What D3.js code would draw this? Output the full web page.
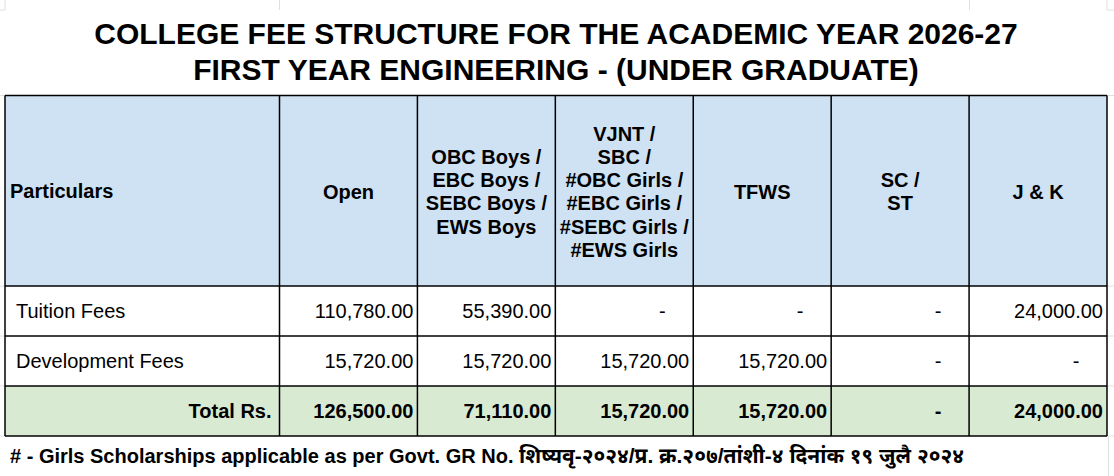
<html>
  <head>
    <script src="https://cdn.jsdelivr.net/npm/d3@7"></script>
    <style>
      body { margin: 0; background: #fff; }
      text { font-family: "Liberation Sans", Arial, "Noto Sans", sans-serif; }
    </style>
  </head>

  <body>
    <div id="sheet"></div>
  </body>

  <script>
    // title lines
    const titleLines = [
      "COLLEGE FEE STRUCTURE FOR THE ACADEMIC YEAR 2026-27",
      "FIRST YEAR ENGINEERING - (UNDER GRADUATE)"
    ]

    // column headers (each one split into its wrapped lines)
    const categories = ["Open", "OBC", "VJNT", "TFWS", "SCST", "JK"]
    const headerLines = [
      ["Open"],
      ["OBC Boys /", "EBC Boys /", "SEBC Boys /", "EWS Boys"],
      ["VJNT /", "SBC /", "#OBC Girls /", "#EBC Girls /", "#SEBC Girls /", "#EWS Girls"],
      ["TFWS"],
      ["SC /", "ST"],
      ["J & K"]
    ]

    // fee rows (null = shown as a dash)
    const rowLabels = ["Tuition Fees", "Development Fees", "Total Rs."]
    const tuitionFees = [110780, 55390, null, null, null, 24000]
    const developmentFees = [15720, 15720, 15720, 15720, null, null]
    const totalFees = [126500, 71110, 15720, 15720, null, 24000]

    // foot note, latin part and devanagari part
    const footNote = ["# - Girls Scholarships applicable as per Govt. GR No. ", "शिष्यवृ-२०२४/प्र. क्र.२०७/तांशी-४ दिनांक १९ जुलै २०२४"]

    function drawSheet () {
      let width = 1114, height = 476
      let left = 5, labelRight = 279.5, right = 1107
      let top = 95.5, headBottom = 286, rowH = 50
      let fontSize = 20

      let svg = d3.select("#sheet")
        .append("svg")
        .attr("width", width)
        .attr("height", height)

      // faint spreadsheet gridlines in the margins
      let grid = svg.append("g").attr("stroke", "#e0e0e0").attr("stroke-width", 1)
      let gridYs = [10, top, headBottom, headBottom + rowH, headBottom + 2 * rowH, headBottom + 3 * rowH]
      gridYs.forEach(y => {
        grid.append("line").attr("x1", 0).attr("x2", left).attr("y1", y).attr("y2", y)
        grid.append("line").attr("x1", right).attr("x2", width).attr("y1", y).attr("y2", y)
      })
      ;[left, labelRight, 969.5, right].forEach(x => {
        grid.append("line").attr("x1", x).attr("x2", x).attr("y1", 0).attr("y2", 10)
      })
      grid.append("line").attr("x1", 1108.5).attr("x2", 1108.5).attr("y1", 436).attr("y2", height)

      // title
      svg.append("g")
        .selectAll("text")
        .data(titleLines)
        .enter().append("text")
        .attr("x", (left + right) / 2)
        .attr("y", (d, i) => 44 + i * 36)
        .attr("text-anchor", "middle")
        .attr("font-size", 30)
        .attr("font-weight", "bold")
        .attr("fill", "#000")
        .text(d => d)

      // columns
      let x = d3.scaleBand()
        .domain(categories)
        .range([labelRight, right])
        .paddingInner(0)

      // rows
      let y = d3.scaleBand()
        .domain(rowLabels)
        .range([headBottom, headBottom + rowH * rowLabels.length])

      let rowValues = [tuitionFees, developmentFees, totalFees]
      let rowFill = ["#ffffff", "#ffffff", "#d9ead3"]

      // header fill
      svg.append("rect")
        .attr("x", left).attr("y", top)
        .attr("width", right - left).attr("height", headBottom - top)
        .attr("fill", "#cfe2f3")

      // body fills
      svg.append("g")
        .selectAll("rect")
        .data(rowLabels)
        .enter().append("rect")
        .attr("x", left)
        .attr("y", d => y(d))
        .attr("width", right - left)
        .attr("height", y.bandwidth())
        .attr("fill", (d, i) => rowFill[i])

      // header texts
      let lineH = 23.3
      let headMid = (top + headBottom) / 2
      svg.append("text")
        .attr("x", 10)
        .attr("y", headMid)
        .attr("dy", "0.35em")
        .attr("font-size", fontSize)
        .attr("font-weight", "bold")
        .text("Particulars")

      let heads = svg.append("g")
        .selectAll("g")
        .data(categories)
        .enter().append("g")
        .attr("transform", d => "translate(" + (x(d) + x.bandwidth() / 2) + ",0)")

      heads.selectAll("text")
        .data((d, i) => headerLines[i].map((t, j, arr) => ({t: t, j: j, n: arr.length})))
        .enter().append("text")
        .attr("text-anchor", "middle")
        .attr("y", d => headMid + 1 + (d.j - (d.n - 1) / 2) * lineH)
        .attr("dy", "0.35em")
        .attr("font-size", fontSize)
        .attr("font-weight", "bold")
        .text(d => d.t)

      // row labels
      let money = d3.format(",.2f")
      svg.append("g")
        .selectAll("text")
        .data(rowLabels)
        .enter().append("text")
        .attr("x", (d, i) => i == 2 ? labelRight - 8 : 16)
        .attr("y", d => y(d) + y.bandwidth() / 2)
        .attr("dy", "0.35em")
        .attr("text-anchor", (d, i) => i == 2 ? "end" : "start")
        .attr("font-size", fontSize)
        .attr("font-weight", (d, i) => i == 2 ? "bold" : "normal")
        .text(d => d)

      // values
      rowLabels.forEach((row, r) => {
        svg.append("g")
          .selectAll("text")
          .data(rowValues[r])
          .enter().append("text")
          .attr("x", (d, i) => d == null ? x(categories[i]) + x.bandwidth() - 31 : x(categories[i]) + x.bandwidth() - 4)
          .attr("y", y(row) + y.bandwidth() / 2)
          .attr("dy", "0.35em")
          .attr("text-anchor", d => d == null ? "middle" : "end")
          .attr("font-size", fontSize)
          .attr("font-weight", r == 2 ? "bold" : "normal")
          .attr("fill", "#000")
          .text(d => d == null ? "-" : money(d))
      })

      // borders
      let bottom = headBottom + rowH * rowLabels.length
      let border = svg.append("g").attr("stroke", "#000").attr("stroke-width", 1.5)
      ;[top, headBottom].concat(rowLabels.map(d => y(d) + y.bandwidth())).forEach(yy => {
        border.append("line").attr("x1", left).attr("x2", right).attr("y1", yy).attr("y2", yy)
      })
      ;[left].concat(categories.map(d => x(d)), [right]).forEach(xx => {
        border.append("line").attr("x1", xx).attr("x2", xx).attr("y1", top).attr("y2", bottom)
      })

      // foot note
      let foot = svg.append("text")
        .attr("x", 10)
        .attr("y", 463)
        .attr("font-size", fontSize)
        .attr("font-weight", "bold")
      foot.append("tspan").attr("xml:space", "preserve").text(footNote[0])
      foot.append("tspan").attr("font-size", 21).text(footNote[1])
    }

    drawSheet()
  </script>
</html>
